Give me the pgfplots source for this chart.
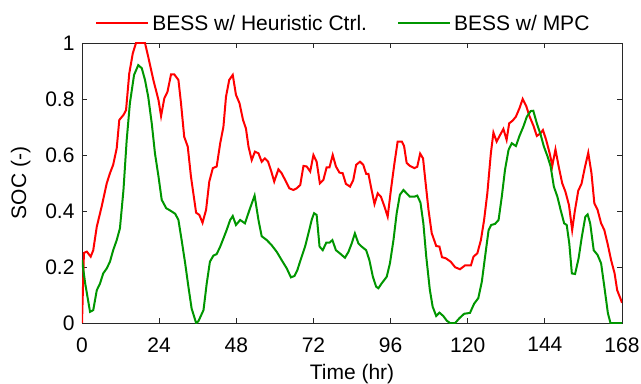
\documentclass[border=0pt]{standalone}
\usepackage{fontspec}
\setmainfont{Liberation Sans}
\usepackage{pgfplots}
\pgfplotsset{compat=1.18}

\definecolor{socred}{RGB}{255,0,0}
\definecolor{socgreen}{RGB}{0,150,0}
\definecolor{axisgray}{RGB}{40,40,40}

% State of charge, heuristic controller
\pgfplotstableread{
t soc
0 0
0.6 0.25
1.5 0.255
2.7 0.237
3.5 0.26
4.6 0.344
6.1 0.415
7.7 0.499
8.7 0.535
9.7 0.565
10.8 0.624
11.6 0.725
12.9 0.743
13.7 0.76
14.7 0.891
15.8 0.963
16.8 1.0
19.6 1.0
20.6 0.951
22.2 0.868
23.8 0.796
24.6 0.739
25.6 0.802
26.6 0.826
27.7 0.888
28.7 0.888
30.0 0.868
30.8 0.785
31.8 0.665
32.9 0.63
33.9 0.523
35.5 0.394
36.5 0.386
37.5 0.358
38.6 0.404
39.6 0.505
40.7 0.553
41.9 0.559
43.0 0.642
44.0 0.701
44.8 0.808
45.8 0.868
46.9 0.886
47.9 0.815
49.0 0.785
50.1 0.725
51.0 0.695
51.8 0.63
52.8 0.582
53.8 0.612
54.9 0.606
55.9 0.576
56.9 0.588
57.9 0.576
58.9 0.541
59.8 0.505
61.1 0.549
62.1 0.535
63.2 0.511
64.5 0.481
65.8 0.475
66.8 0.481
67.9 0.493
68.9 0.561
69.9 0.559
71.0 0.541
72.0 0.6
73.0 0.576
74.0 0.499
75.1 0.511
76.1 0.556
77.0 0.556
78.0 0.6
79.0 0.559
80.1 0.537
81.1 0.535
82.1 0.497
83.4 0.487
84.4 0.511
85.3 0.565
86.5 0.576
87.5 0.565
88.4 0.533
89.1 0.533
90.1 0.475
91.0 0.425
92.0 0.463
93.0 0.451
94.1 0.416
95.1 0.38
96.1 0.475
97.2 0.57
98.2 0.648
99.5 0.648
100.2 0.632
101.0 0.572
102.0 0.561
103.4 0.553
104.3 0.558
105.2 0.605
106.1 0.588
106.8 0.511
107.8 0.404
108.8 0.321
110.2 0.275
111.2 0.273
112.0 0.235
113.2 0.231
114.7 0.219
116.1 0.199
117.6 0.192
119.2 0.206
121.0 0.206
121.8 0.237
123.0 0.249
124.1 0.296
125.1 0.368
126.1 0.463
127.2 0.606
128.0 0.68
129.0 0.648
130.1 0.672
131.1 0.693
132.1 0.654
132.9 0.713
134.0 0.723
135.0 0.737
136.1 0.767
137.1 0.8
138.2 0.775
139.2 0.739
140.5 0.703
141.5 0.668
142.6 0.677
143.4 0.689
144.4 0.654
145.5 0.606
146.3 0.561
147.3 0.62
148.3 0.559
149.4 0.499
150.4 0.469
151.5 0.421
152.5 0.332
153.3 0.398
154.4 0.473
155.4 0.497
156.4 0.553
157.5 0.608
158.5 0.535
159.4 0.427
160.4 0.404
161.5 0.356
162.5 0.332
163.6 0.279
164.6 0.225
165.7 0.177
166.5 0.117
167.5 0.088
168 0.072
}\heuristic

% State of charge, model predictive control
\pgfplotstableread{
t soc
0 0.225
1.0 0.141
2.5 0.04
3.5 0.046
4.6 0.117
5.6 0.141
6.6 0.177
7.7 0.195
8.7 0.219
9.7 0.26
10.8 0.296
11.8 0.338
12.9 0.475
13.9 0.653
14.9 0.785
16.2 0.886
17.5 0.921
18.6 0.91
19.6 0.868
20.6 0.808
21.7 0.713
22.7 0.606
23.8 0.523
24.8 0.44
26.2 0.41
27.4 0.402
29.0 0.39
30.0 0.368
31.0 0.296
32.1 0.213
33.1 0.13
34.1 0.052
35.5 0
36.2 0.006
37.8 0.046
38.8 0.141
39.8 0.219
40.9 0.241
41.9 0.246
43.0 0.273
44.0 0.302
45.0 0.332
46.1 0.368
46.9 0.382
47.9 0.35
49.2 0.368
50.7 0.356
52.2 0.407
53.7 0.455
54.9 0.368
55.9 0.31
57.5 0.296
59.0 0.278
60.6 0.254
62.1 0.225
63.7 0.195
65.0 0.163
66.1 0.168
67.0 0.189
68.0 0.225
69.4 0.273
70.4 0.318
71.5 0.37
72.2 0.392
73.0 0.386
73.9 0.273
74.9 0.26
76.0 0.287
77.0 0.287
77.9 0.296
79.0 0.26
80.2 0.249
81.8 0.233
82.9 0.254
83.9 0.284
84.9 0.32
86.0 0.284
87.0 0.273
88.4 0.26
89.4 0.225
90.5 0.165
91.5 0.13
92.2 0.124
93.2 0.141
94.8 0.165
95.8 0.213
96.9 0.296
97.9 0.392
98.9 0.458
100.0 0.475
101.0 0.463
102.0 0.451
103.4 0.451
104.3 0.455
105.3 0.43
106.2 0.356
107.1 0.237
108.2 0.12
109.1 0.058
110.2 0.025
111.2 0.037
112.4 0.025
113.5 0.008
114.5 0
116.1 0
117.4 0.017
118.9 0.033
120.7 0.036
122.0 0.069
123.3 0.089
124.4 0.148
125.4 0.237
126.5 0.332
127.3 0.35
128.5 0.354
129.6 0.368
130.6 0.451
131.6 0.547
132.7 0.618
133.7 0.642
135.0 0.632
136.1 0.668
137.3 0.701
138.4 0.737
139.6 0.757
140.4 0.758
141.5 0.713
142.7 0.672
143.7 0.63
144.8 0.596
145.8 0.559
146.8 0.487
147.9 0.451
148.9 0.404
150.0 0.356
150.8 0.35
151.6 0.284
152.4 0.177
153.4 0.175
154.5 0.231
155.5 0.308
156.6 0.38
157.3 0.388
158.1 0.356
159.2 0.26
160.4 0.243
161.5 0.213
162.5 0.13
163.6 0.036
164.4 0
168 0
}\mpc

\begin{document}
\begin{tikzpicture}
\begin{axis}[
  at={(0,0)}, anchor=south west,
  scale only axis,
  width=540bp, height=280bp,
  xmin=0, xmax=168, ymin=0, ymax=1,
  xtick={0,24,...,168},
  ytick={0,0.2,...,1},
  tick align=inside,
  major tick length=5bp,
  axis line style={axisgray, line width=0.9bp},
  every tick/.style={axisgray, line width=0.9bp},
  font=\fontsize{21bp}{25bp}\selectfont,
  /pgf/number format/assume math mode=true,
  yticklabel style={/pgf/number format/fixed, /pgf/number format/precision=1},
  xticklabel style={yshift=-11bp},
  yticklabel style={xshift=-4bp},
  xlabel={Time (hr)},
  ylabel={SOC (-)},
  xlabel style={yshift=-5bp},
  ylabel style={yshift=8bp},
  legend columns=2,
  legend style={at={(0.485,1)}, anchor=south, draw=none, fill=none,
    font=\fontsize{21bp}{25bp}\selectfont, inner sep=0pt, yshift=9bp,
    /tikz/every even column/.append style={column sep=27bp},
    nodes={inner xsep=3bp}},
  legend image code/.code={\draw[#1] (0bp,0bp) -- (52bp,0bp);},
]
\addplot[socred, line width=2bp] table[x=t, y=soc] {\heuristic};
\addlegendentry{BESS w/ Heuristic Ctrl.}
\addplot[socgreen, line width=2bp] table[x=t, y=soc] {\mpc};
\addlegendentry{BESS w/ MPC}
\end{axis}
\pgfresetboundingbox
\path[use as bounding box] (-82bp,-61bp) rectangle (559bp,323bp);
\end{tikzpicture}
\end{document}
